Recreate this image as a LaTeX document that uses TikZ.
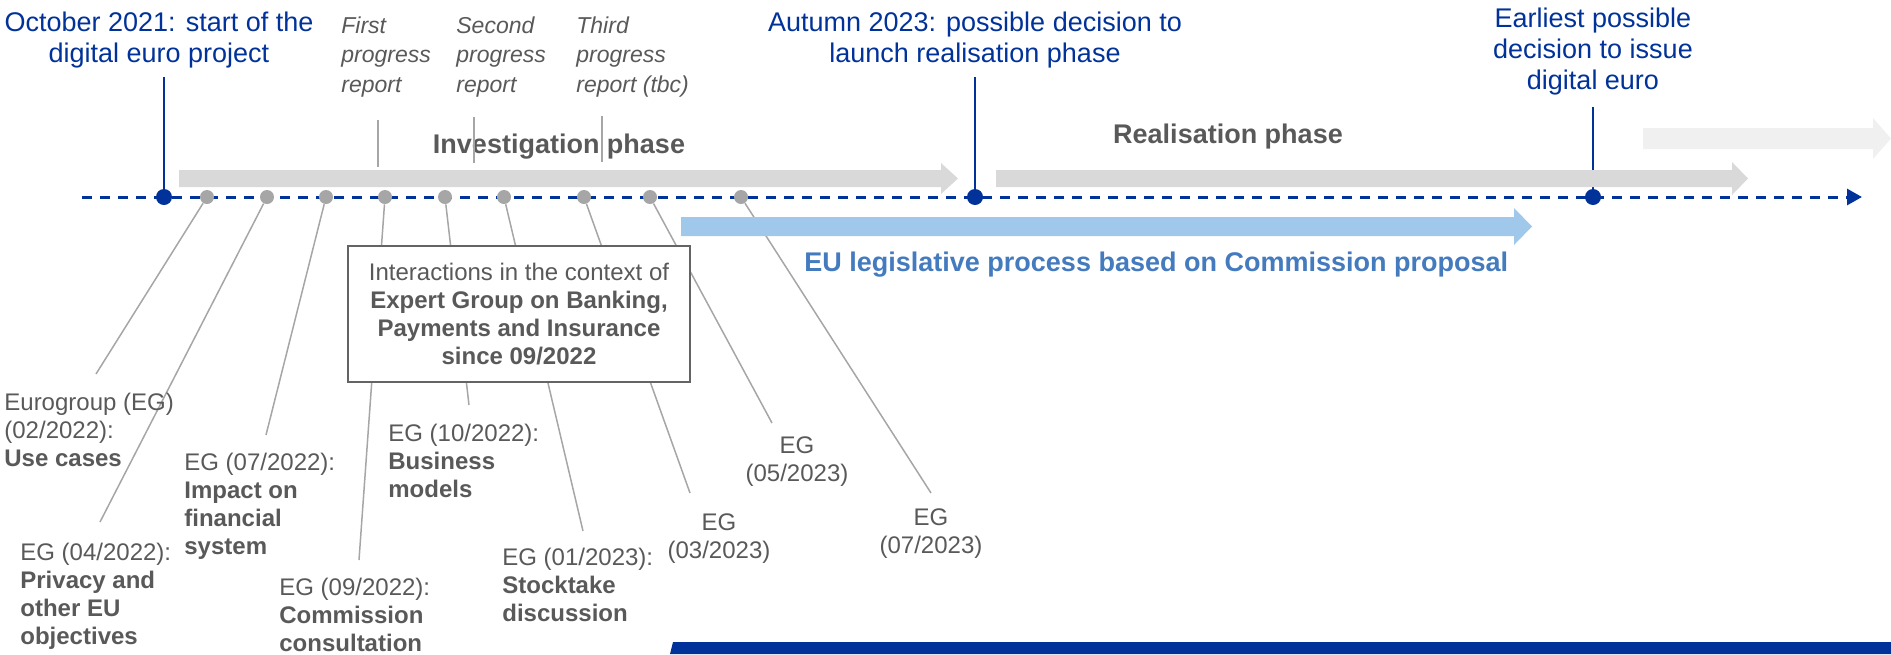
\documentclass[tikz,border=0pt]{standalone}
\usepackage{fontspec}
\setmainfont{Liberation Sans}
\usepackage{tikz}
\usetikzlibrary{arrows.meta}

\definecolor{ecbblue}{RGB}{0,50,153}
\definecolor{txtgrey}{RGB}{89,89,89}
\definecolor{lgrey}{RGB}{166,166,166}
\definecolor{bargrey}{RGB}{217,217,217}
\definecolor{pale}{RGB}{240,240,240}
\definecolor{skyblue}{RGB}{160,200,234}
\definecolor{eublue}{RGB}{68,122,190}
\definecolor{boxgrey}{RGB}{100,100,100}

\begin{document}
\begin{tikzpicture}[x=0.5pt,y=-0.5pt,
    bdot/.style={circle,fill=ecbblue,inner sep=0pt,minimum size=8pt},
    gdot/.style={circle,fill=lgrey,inner sep=0pt,minimum size=7pt},
    bline/.style={draw=ecbblue,line width=1pt},
    gline/.style={draw=lgrey,line width=0.75pt},
    title/.style={text=ecbblue,align=center,anchor=north,inner sep=0pt,font=\fontsize{13.5}{15.5}\selectfont},
    report/.style={text=txtgrey,align=left,anchor=north west,inner sep=0pt,font=\fontsize{11.5}{14.75}\selectfont\itshape},
    eg/.style={text=txtgrey,align=left,anchor=north west,inner sep=0pt,font=\fontsize{12}{14}\selectfont},
    egc/.style={eg,align=center,anchor=north},
    phase/.style={text=txtgrey,anchor=base,inner sep=0pt,font=\fontsize{13.5}{16}\selectfont\bfseries},
    ebox/.style={draw=boxgrey,line width=1pt,fill=white,text=txtgrey,align=center,inner sep=0pt,
                 minimum width=171pt,minimum height=68pt,font=\fontsize{12}{14}\selectfont}]
\path[use as bounding box] (0,0) rectangle (1891,654);

% time line
\coordinate (t0) at (82,197);
\coordinate (t1) at (1862,197);
\draw[ecbblue,line width=1.5pt,dash pattern=on 5pt off 4pt,-{Triangle[length=7.5pt,width=8pt]}] (t0) -- (t1);

% milestones
\node[title] (o21) at (159,12) {October 2021: start of the\\digital euro project};
\node[title] (a23) at (975,12) {Autumn 2023: possible decision to\\launch realisation phase};
\node[title] (ear) at (1593,8) {Earliest possible\\decision to issue\\digital euro};
\node[bdot] (s1) at (164,197) {};
\node[bdot] (s2) at (975,197) {};
\node[bdot] (s3) at (1593,197) {};
\coordinate (c1) at (164,77);
\coordinate (c2) at (975,77);
\coordinate (c3) at (1593,107);
\draw[bline] (c1) -- (s1);
\draw[bline] (c2) -- (s2);
\draw[bline] (c3) -- (s3);

% phases
\fill[bargrey] (179,170) -- (941,170) -- (941,163) -- (958,178.5) -- (941,194) -- (941,187) -- (179,187) -- cycle;
\fill[bargrey] (996,170) -- (1732,170) -- (1732,162) -- (1748,178.5) -- (1732,195) -- (1732,187) -- (996,187) -- cycle;
\fill[pale] (1643,128) -- (1873,128) -- (1873,118) -- (1891,138.5) -- (1873,159) -- (1873,149) -- (1643,149) -- cycle;
\node[phase] (inv) at (559,153) {Investigation phase};
\node[phase] (rea) at (1228,143) {Realisation phase};

% progress reports
\node[report] (r1) at (341,16) {First\\progress\\report};
\node[report] (r2) at (456,16) {Second\\progress\\report};
\node[report] (r3) at (576,16) {Third\\progress\\report (tbc)};
\draw[gline] (378,120) -- (378,167);
\draw[gline] (474,117) -- (474,163);
\draw[gline] (602,116) -- (602,162);

% Eurogroup meetings
\node[gdot] (d1) at (207,197) {};
\node[gdot] (d2) at (267,197) {};
\node[gdot] (d3) at (326,197) {};
\node[gdot] (d4) at (385,197) {};
\node[gdot] (d5) at (445,197) {};
\node[gdot] (d6) at (504,197) {};
\node[gdot] (d7) at (584,197) {};
\node[gdot] (d8) at (650,197) {};
\node[gdot] (d9) at (741,197) {};
\coordinate (e1) at (96,374);
\coordinate (e2) at (100,522);
\coordinate (e3) at (266,435);
\coordinate (e4) at (359,560);
\coordinate (e5) at (469,405);
\coordinate (e6) at (583,531);
\coordinate (e7) at (690,493);
\coordinate (e8) at (772,423);
\coordinate (e9) at (931,493);
\draw[gline] (d1) -- (e1);
\draw[gline] (d2) -- (e2);
\draw[gline] (d3) -- (e3);
\draw[gline] (d4) -- (e4);
\draw[gline] (d5) -- (e5);
\draw[gline] (d6) -- (e6);
\draw[gline] (d7) -- (e7);
\draw[gline] (d8) -- (e8);
\draw[gline] (d9) -- (e9);
\node[eg] (l1) at (4,393) {Eurogroup (EG)\\(02/2022):\\\textbf{Use cases}};
\node[eg] (l2) at (20,543) {EG (04/2022):\\\textbf{Privacy and}\\\textbf{other EU}\\\textbf{objectives}};
\node[eg] (l3) at (184,453) {EG (07/2022):\\\textbf{Impact on}\\\textbf{financial}\\\textbf{system}};
\node[eg] (l4) at (279,578) {EG (09/2022):\\\textbf{Commission}\\\textbf{consultation}};
\node[eg] (l5) at (388,424) {EG (10/2022):\\\textbf{Business}\\\textbf{models}};
\node[eg] (l6) at (502,548) {EG (01/2023):\\\textbf{Stocktake}\\\textbf{discussion}};
\node[egc] (l7) at (719,513) {EG\\(03/2023)};
\node[egc] (l8) at (797,436) {EG\\(05/2023)};
\node[egc] (l9) at (931,508) {EG\\(07/2023)};

% legislative process
\fill[skyblue] (681,217) -- (1514,217) -- (1514,208) -- (1532,226.5) -- (1514,245) -- (1514,236) -- (681,236) -- cycle;
\node[anchor=base west,inner sep=0pt,text=eublue,font=\fontsize{13.5}{16}\selectfont\bfseries] (eul) at (804,271) {EU legislative process based on Commission proposal};

% expert group box
\node[ebox] (egbpi) at (519,314) {Interactions in the context of\\\textbf{Expert Group on Banking,}\\\textbf{Payments and Insurance}\\\textbf{since 09/2022}};

\fill[ecbblue] (670,654) -- (673,642) -- (1891,642) -- (1891,654) -- cycle;
\end{tikzpicture}
\end{document}
